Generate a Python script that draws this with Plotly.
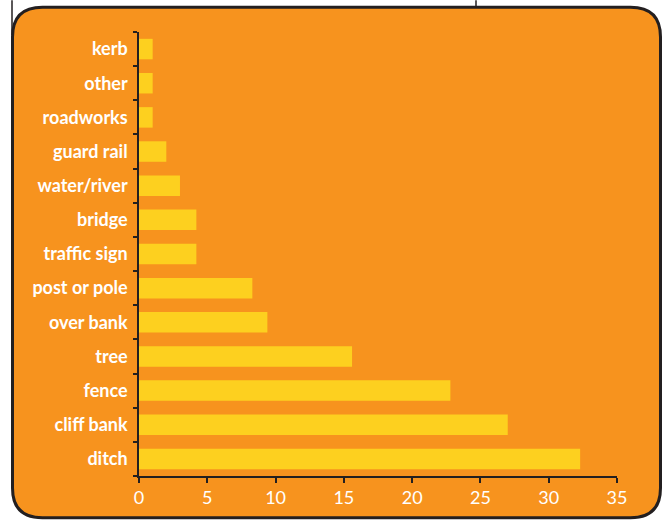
import plotly.graph_objects as go

categories = ["kerb", "other", "roadworks", "guard rail", "water/river", "bridge",
              "traffic sign", "post or pole", "over bank", "tree", "fence",
              "cliff bank", "ditch"]
values = [1, 1, 1, 2, 3, 4.2, 4.2, 8.3, 9.4, 15.6, 22.8, 27, 32.3]
x_ticks = [0, 5, 10, 15, 20, 25, 30, 35]

W, H = 667, 520
ML, MR, MT, MB = 139, 50, 32, 41
PW, PH = W - ML - MR, H - MT - MB

ORANGE = "#F7931E"
YELLOW = "#FDD01F"
DARK = "#231F20"

def px(x):
    return (x - ML) / PW

def py(y):
    return (H - MB - y) / PH

def pt(x, y):
    return f"{px(x):.5f},{py(y):.5f}"

# rounded rectangle
L, R, T, B, r = 12.5, 660.5, 7, 521, 30
path = (f"M {pt(L + r, T)} L {pt(R - r, T)} Q {pt(R, T)} {pt(R, T + r)} "
        f"L {pt(R, B - r)} Q {pt(R, B)} {pt(R - r, B)} L {pt(L + r, B)} "
        f"Q {pt(L, B)} {pt(L, B - r)} L {pt(L, T + r)} Q {pt(L, T)} {pt(L + r, T)} Z")

fig = go.Figure(go.Bar(
    x=values, y=categories, orientation="h",
    marker=dict(color=YELLOW, line=dict(width=0)),
    hoverinfo="x+y",
))

shapes = [
    dict(type="path", path=path, xref="paper", yref="paper", layer="below",
         fillcolor=ORANGE, line=dict(color=DARK, width=3)),
    dict(type="line", xref="paper", yref="paper", x0=px(12), x1=px(12),
         y0=py(0), y1=py(35), line=dict(color=DARK, width=1.5), layer="below"),
    dict(type="line", xref="paper", yref="paper", x0=px(476), x1=px(476),
         y0=py(0), y1=py(7), line=dict(color=DARK, width=1.5), layer="below"),
]

fig.update_layout(
    width=W, height=H,
    margin=dict(l=ML, r=MR, t=MT, b=MB, pad=0),
    paper_bgcolor="white",
    plot_bgcolor="rgba(0,0,0,0)",
    bargap=0.4,
    showlegend=False,
    shapes=shapes,
    font=dict(family="Lato", color="white", size=18),
    xaxis=dict(
        range=[0, 35], tickvals=x_ticks, ticktext=[str(v) for v in x_ticks],
        showgrid=False, zeroline=False, showline=True, linecolor=DARK, linewidth=1.5,
        ticks="outside", ticklen=5, tickcolor=DARK, tickwidth=1.5,
        tickfont=dict(family="Lato", size=18, color="white"),
        fixedrange=True,
    ),
    yaxis=dict(
        categoryorder="array", categoryarray=categories[::-1],
        showgrid=False, zeroline=False, showline=True, linecolor=DARK, linewidth=1.5,
        ticks="outside", ticklen=4, tickcolor=DARK, tickwidth=1.5, tickson="boundaries",
        tickfont=dict(family="Lato", size=18, color="white", weight="bold"),
        ticklabelstandoff=6,
        fixedrange=True,
    ),
)

fig.write_html("out.html")
